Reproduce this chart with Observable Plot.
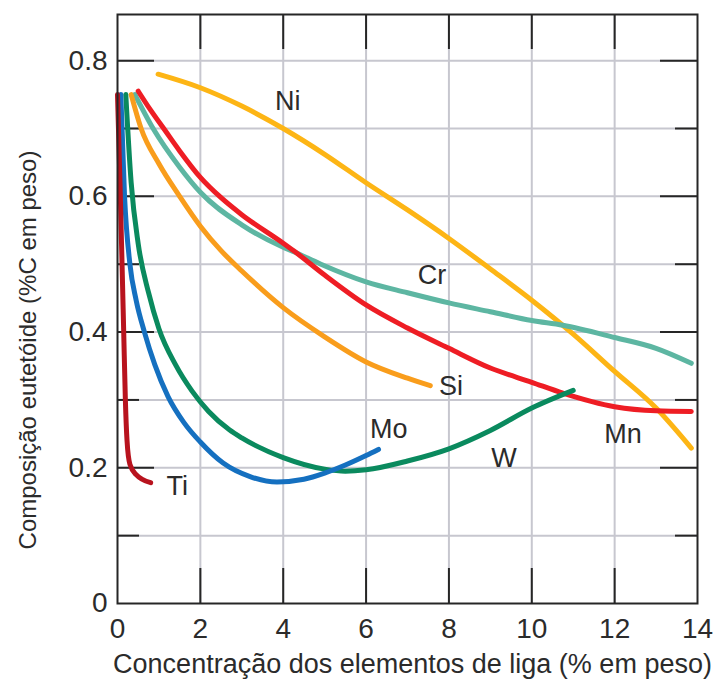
<!DOCTYPE html>
<html>
<head>
<meta charset="utf-8">
<script src="https://cdn.jsdelivr.net/npm/d3@7"></script>
<script src="https://cdn.jsdelivr.net/npm/@observablehq/plot@0.6"></script>
<style>
  html, body { margin: 0; padding: 0; background: #ffffff; }
  #chart svg { display: block; }
</style>
</head>
<body>
<div id="chart"></div>
<script>
// ---- Data ----
const elements = ["Ni", "Cr", "Mn", "Si", "W", "Mo", "Ti"];
const colors   = ["#FDB515", "#5DB6A2", "#EE1D24", "#F99D1C", "#0A8A5E", "#1570C0", "#B8131E"];

const niX = [0.98, 2, 3, 4, 5, 6, 7, 8, 9, 10, 11, 12, 13, 13.85];
const niY = [0.78, 0.76, 0.733, 0.70, 0.662, 0.62, 0.58, 0.538, 0.493, 0.447, 0.397, 0.342, 0.288, 0.229];

const crX = [0.42, 0.86, 1.5, 2, 3, 4, 4.27, 4.91, 6, 7, 8, 9, 10, 10.75, 12, 13, 13.85];
const crY = [0.75, 0.70, 0.643, 0.606, 0.558, 0.525, 0.518, 0.50, 0.474, 0.458, 0.443, 0.43, 0.417, 0.41, 0.392, 0.376, 0.354];

const mnX = [0.5, 0.8, 1.15, 1.5, 2, 2.5, 3, 4, 4.27, 5, 6, 7, 8, 9, 10, 10.75, 12, 13, 13.85];
const mnY = [0.755, 0.727, 0.697, 0.667, 0.628, 0.598, 0.573, 0.531, 0.519, 0.484, 0.44, 0.406, 0.376, 0.347, 0.326, 0.31, 0.29, 0.284, 0.283];

const siX = [0.33, 0.57, 1.0, 1.5, 2, 2.5, 3, 4, 5, 6, 7, 7.55];
const siY = [0.75, 0.70, 0.648, 0.60, 0.556, 0.52, 0.49, 0.436, 0.393, 0.356, 0.332, 0.321];

const wX = [0.2, 0.33, 0.5, 0.75, 1.0, 1.4, 1.8, 2.2, 2.7, 3, 4, 5, 5.5, 6, 7, 8, 9, 10, 11.0];
const wY = [0.75, 0.62, 0.53, 0.458, 0.405, 0.352, 0.313, 0.283, 0.256, 0.244, 0.215, 0.198, 0.195, 0.197, 0.21, 0.228, 0.255, 0.288, 0.314];

const moX = [0.08, 0.17, 0.3, 0.45, 0.65, 0.9, 1.22, 1.6, 2.0, 2.55, 3.2, 3.85, 4.5, 5, 5.5, 6, 6.3];
const moY = [0.75, 0.60, 0.50, 0.447, 0.40, 0.352, 0.305, 0.267, 0.238, 0.207, 0.187, 0.179, 0.183, 0.192, 0.204, 0.218, 0.227];

const tiX = [0.0, 0.06, 0.11, 0.15, 0.19, 0.23, 0.3, 0.45, 0.8];
const tiY = [0.75, 0.62, 0.50, 0.40, 0.30, 0.24, 0.205, 0.19, 0.178];

// curve labels (data coordinates)
const labelNames = ["Ni", "Cr", "Si", "Mo", "Ti", "W", "Mn"];
const labelX = [4.11, 7.59, 8.05, 6.55, 1.44, 9.33, 12.2];
const labelY = [0.740, 0.484, 0.320, 0.257, 0.173, 0.214, 0.249];

// axes
const xTicks = [0, 2, 4, 6, 8, 10, 12, 14];
const xGrid = [2, 4, 6, 8, 10, 12];
const yTicks = [0, 0.2, 0.4, 0.6, 0.8];
const yMajorInner = [0.2, 0.4, 0.6, 0.8];
const yMinor = [0.1, 0.3, 0.5, 0.7];
const yGrid = [0.1, 0.2, 0.3, 0.4, 0.5, 0.6, 0.7, 0.8];
const xTitle = "Concentração dos elementos de liga (% em peso)";
const yTitle = "Composição eutetóide (%C em peso)";

// ---- Build tables ----
const seriesX = {Ni: niX, Cr: crX, Mn: mnX, Si: siX, W: wX, Mo: moX, Ti: tiX};
const seriesY = {Ni: niY, Cr: crY, Mn: mnY, Si: siY, W: wY, Mo: moY, Ti: tiY};
const rows = elements.flatMap(e => seriesX[e].map((x, i) => ({element: e, x, y: seriesY[e][i]})));
const labels = labelNames.map((n, i) => ({name: n, x: labelX[i], y: labelY[i]}));

// ---- Layout ----
const W = 715, H = 688;
const mL = 117, mR = 18, mT = 14, mB = 85;
const fw = W - mL - mR;   // frame width
const fh = H - mT - mB;   // frame height
const ink = "#262626";
const textInk = "#2b2b2b";
const gridColor = "#C7C7CF";
const majorLen = 37, minorLen = 22, xTickLen = 35;

const chart = Plot.plot({
  width: W,
  height: H,
  marginLeft: mL,
  marginRight: mR,
  marginTop: mT,
  marginBottom: mB,
  style: {fontFamily: "'Liberation Sans', Arial, sans-serif", background: "#ffffff", color: textInk},
  x: {domain: [0, 14]},
  y: {domain: [0, 0.868]},
  color: {domain: elements, range: colors},
  marks: [
    Plot.ruleY(yGrid, {stroke: gridColor, strokeWidth: 2}),
    Plot.ruleX(xGrid, {stroke: gridColor, strokeWidth: 2}),
    // inner tick marks
    Plot.tickY(yMajorInner, {insetRight: fw - majorLen, stroke: ink, strokeWidth: 2}),
    Plot.tickY(yMinor, {insetRight: fw - minorLen, stroke: ink, strokeWidth: 2}),
    Plot.tickY(yMajorInner, {insetLeft: fw - majorLen, stroke: ink, strokeWidth: 2}),
    Plot.tickY(yMinor, {insetLeft: fw - minorLen, stroke: ink, strokeWidth: 2}),
    Plot.tickX(xGrid, {insetBottom: fh - xTickLen, stroke: ink, strokeWidth: 2}),
    Plot.tickX(xGrid, {insetTop: fh - xTickLen, stroke: ink, strokeWidth: 2}),
    // curves
    Plot.line(rows, {
      x: "x", y: "y", z: "element", stroke: "element",
      strokeWidth: 5, curve: "monotone-x",
      strokeLinecap: "round", strokeLinejoin: "round"
    }),
    // curve labels
    Plot.text(labels, {x: "x", y: "y", text: "name", fontSize: 27, fill: textInk}),
    // axes
    Plot.axisX({ticks: xTicks, tickSize: 0, tickPadding: 15, fontSize: 28, label: null}),
    Plot.axisY({ticks: yTicks, tickSize: 0, tickPadding: 10, fontSize: 28, label: null,
      tickFormat: d => d === 0 ? "0" : d3.format(".1f")(d)}),
    // titles
    Plot.text([xTitle], {text: d => d, frameAnchor: "bottom", textAnchor: "middle",
      dx: 5, dy: 69, fontSize: 27, fill: textInk}),
    Plot.text([yTitle], {text: d => d, frameAnchor: "left", textAnchor: "middle",
      dx: -89, dy: 41, rotate: -90, fontSize: 24, fill: textInk}),
    Plot.frame({stroke: ink, strokeWidth: 2})
  ]
});

document.getElementById("chart").appendChild(chart);
</script>
</body>
</html>
